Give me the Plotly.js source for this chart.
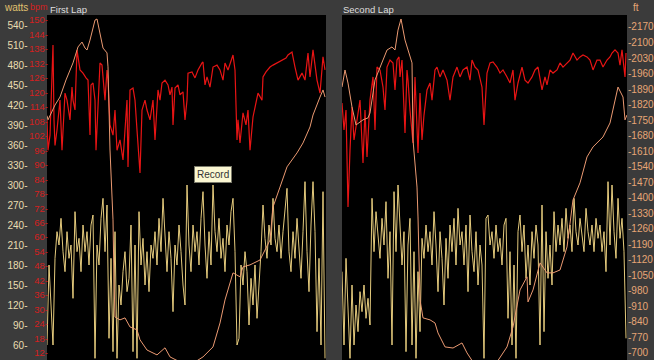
<!DOCTYPE html>
<html>
<head>
<meta charset="utf-8">
<script src="https://cdn.plot.ly/plotly-3.0.1.min.js"></script>
<style>html,body{margin:0;padding:0;background:#3b3b3b;}#chart{width:654px;height:360px;}</style>
</head>
<body>
<div id="chart"></div>
<script>
// ---------- Data ----------
const lapNames = ["First Lap", "Second Lap"];

// Power (watts), sampled every 2 time units
const lap1PowerStep = 2;
const lap1Power = [60,180,120,60,190,230,210,250,200,170,230,190,210,130,260,200,220,170,240,200,230,180,240,255,40,210,180,250,280,200,270,70,190,50,230,40,150,120,170,200,140,160,240,50,210,40,260,180,220,150,200,140,210,190,230,180,250,200,280,220,170,230,190,110,210,180,240,200,150,120,300,210,170,240,200,230,180,250,290,210,160,230,180,300,230,200,250,190,220,170,240,210,260,280,200,60,70,180,150,200,170,90,160,120,180,100,150,200,270,220,190,240,210,280,220,200,240,190,230,260,295,200,170,230,190,250,210,160,230,305,200,140,240,305,230,80,190,60,290,40];
const lap2Power = [170,60,190,100,40,150,60,120,80,140,110,150,100,130,90,280,200,260,230,190,250,210,275,160,230,60,290,200,300,240,180,230,50,210,250,60,200,40,170,80,220,190,240,200,230,180,260,210,140,230,190,120,220,160,240,200,250,180,265,210,230,180,240,140,255,200,170,230,150,210,180,40,250,255,210,230,190,240,200,220,180,240,250,100,200,60,180,40,230,255,200,240,160,210,150,230,190,240,210,60,270,80,230,160,210,150,260,200,240,210,250,200,265,220,240,200,280,230,210,250,220,200,265,230,210,240,200,250,220,240,200,230,170,305,210,300,230,190,280,220,250,200,70];

// Heart rate (bpm)
const lap1HrTime = [0,1,3,6,7,8,10,13,15,18,20,23,25,26,28,30,33,36,39,41,43,44,46,48,49,51,53,55,56,58,60,61,63,66,68,70,73,76,78,80,81,83,86,88,90,93,95,98,100,103,106,108,111,113,115,118,121,123,125,126,128,131,133,136,138,140,141,145,148,151,155,156,158,160,163,166,170,173,176,178,181,185,186,188,190,191,193,196,199,201,203,206,209,211,215,216,219,223,226,230,233,236,239,241,245,248,251,255,258,261,263,266,270,273,276,278];
const lap1Hr = [108.6,96,102.3,139.6,108.6,98,104.4,116.8,96,119.7,116.8,108.6,122.2,116.8,112.7,137.6,129.3,128,126,125.1,102.3,123.1,123.9,116.8,96,112.7,132.2,131.3,125.1,116.8,129.3,125.1,106.5,102.3,112.7,96,100.3,92,104.4,116.8,89.1,121,121.8,116.8,104.4,86.6,112.7,116.8,112.7,108.6,116.8,100.3,121,116.8,123.9,125.1,123.1,119,122.2,106.5,121.8,123.1,119,120.2,108.6,116.8,128,128.5,126,129.3,132.2,132.6,123.1,126.4,122.2,130.5,131.3,129.3,125.1,132.2,129.3,134.2,135.5,129.3,100.3,108.6,99,111.5,106.5,112.7,96,109.8,116.8,119.7,116.8,126.4,128.5,130.5,131.3,132.2,132.6,133.4,134.2,135.5,136.7,130.5,125.1,128,125.1,136.3,126.4,137.6,125.1,119.7,134.7,129.3];
const lap2HrTime = [0,2,4,6,8,10,12,15,18,21,23,25,28,31,33,35,38,41,43,45,48,51,53,55,57,58,60,63,65,66,68,71,73,76,78,80,82,85,88,90,93,95,98,101,105,108,111,115,118,121,125,128,130,133,136,140,142,145,148,151,155,158,161,165,168,171,173,176,180,183,186,190,193,196,200,203,205,208,211,215,218,221,225,228,231,235,238,241,245,248,251,255,258,261,265,268,270,273,276,278,280,281,283,284];
const lap2Hr = [115.6,104.4,112.7,72.5,96,113.9,100.3,108.6,116.8,90.7,112.7,93.2,116.8,126.4,104.4,130.5,129.3,122.2,112.7,130.5,133.4,132.2,121,133.4,134.7,126.4,133.4,103.2,129.3,125.1,112.7,99,126.4,94.9,119.7,100.3,110.6,121,123.9,116.8,129.3,130.5,126.4,129.3,125.1,116.8,126.4,130.5,126.4,129.3,130.5,125.1,133.4,130.5,129.3,122.2,106.5,128,132.2,132.6,130.5,128,129.3,126.4,123.9,129.3,116.8,123.9,130.5,125.1,123.9,126.4,129.3,130.5,121,126.4,123.1,129.3,128,129.3,132.2,130.5,132.2,133.4,136.3,133.4,134.7,135.5,134.7,133.4,129.3,133.4,133.4,130.5,133.4,134.7,136.3,137.6,136.3,131.3,137.6,133.4,126.4,136.3];

// Elevation (ft)
const lap1ElevTime = [0,1,8,13,19,26,31,35,38,40,43,48,50,53,56,60,61,63,65,66,67,68,73,78,83,90,93,100,110,118,123,133,148,156,166,173,178,186,193,196,203,213,223,226,233,240,250,256,263,266,273,276,278];
const lap1Elev = [1770,1751,1818,1854,1931,2008,2080,2102,2075,2066,2111,2201,2206,2143,2075,2053,1990,1615,1390,1300,1029,862,849,858,817,804,759,713,691,723,682,659,659,682,727,835,939,1061,1043,1088,1097,1119,1209,1358,1448,1539,1602,1647,1719,1773,1854,1886,1854];
const lap2ElevTime = [0,3,6,10,14,21,26,28,33,40,45,50,53,56,59,63,66,70,71,75,76,78,81,88,93,96,103,111,120,125,131,155,165,171,178,185,186,191,198,205,211,218,225,231,238,245,251,261,268,271,275,276,281,283,285];
const lap2Elev = [1899,1976,1917,1809,1728,1751,1760,1782,1931,2008,2066,2080,2066,2156,2206,2111,2066,2008,1660,1448,1313,939,858,849,835,790,727,722,745,700,659,659,727,817,984,1043,930,984,1106,1061,1061,1074,1178,1390,1467,1584,1629,1674,1737,1796,1886,1899,1854,1751,1773];

// Tick labels
const wattsTicks = [60,90,120,150,180,210,240,270,300,330,360,390,420,450,480,510,540];
const bpmTicks = [12,18,24,30,36,42,48,54,60,66,72,78,84,90,96,102,108,114,120,126,132,138,144,150];
const ftTicks = [700,770,840,910,980,1050,1120,1190,1260,1330,1400,1470,1540,1610,1680,1750,1820,1890,1960,2030,2100,2170];

// ---------- Styling ----------
const W = 654, H = 360;
const px = v => v / W;
const py = v => 1 - v / H;
const C_POWER = 'rgba(246,218,135,0.92)';
const C_HR = '#e81414';
const C_ELEV = '#eb9a72';
const FONT = 'Liberation Sans, Arial, sans-serif';

const WATTS_RANGE = [37.5, 555];
const BPM_RANGE = [9.1, 152.07];
const FT_RANGE = [668, 2224];

const timeOf = (arr, step) => arr.map((_, i) => i * step);

const traces = [
  {x: timeOf(lap1Power, lap1PowerStep), y: lap1Power, xaxis: 'x', yaxis: 'y', type: 'scatter', mode: 'lines', line: {color: C_POWER, width: 1}, hoverinfo: 'skip'},
  {x: lap1ElevTime, y: lap1Elev, xaxis: 'x', yaxis: 'y3', type: 'scatter', mode: 'lines', line: {color: C_ELEV, width: 1}, hoverinfo: 'skip'},
  {x: lap1HrTime, y: lap1Hr, xaxis: 'x', yaxis: 'y2', type: 'scatter', mode: 'lines', line: {color: C_HR, width: 1.2}, hoverinfo: 'skip'},
  {x: timeOf(lap2Power, lap1PowerStep), y: lap2Power, xaxis: 'x2', yaxis: 'y4', type: 'scatter', mode: 'lines', line: {color: C_POWER, width: 1}, hoverinfo: 'skip'},
  {x: lap2ElevTime, y: lap2Elev, xaxis: 'x2', yaxis: 'y6', type: 'scatter', mode: 'lines', line: {color: C_ELEV, width: 1}, hoverinfo: 'skip'},
  {x: lap2HrTime, y: lap2Hr, xaxis: 'x2', yaxis: 'y5', type: 'scatter', mode: 'lines', line: {color: C_HR, width: 1.2}, hoverinfo: 'skip'}
];

const hidden = {visible: false, showgrid: false, zeroline: false, fixedrange: true};
const yDomain = [0, py(15)];

const layout = {
  width: W, height: H,
  margin: {l: 0, r: 0, t: 0, b: 0, pad: 0},
  paper_bgcolor: '#3b3b3b',
  plot_bgcolor: '#000000',
  showlegend: false,
  font: {family: FONT, size: 10},
  xaxis: Object.assign({}, hidden, {domain: [px(47), px(326)], range: [0, 279]}),
  xaxis2: Object.assign({}, hidden, {domain: [px(342), px(627)], range: [0, 285]}),
  yaxis: {domain: yDomain, range: WATTS_RANGE, anchor: 'free', position: px(27.5), side: 'left',
          showgrid: false, zeroline: false, showline: false, ticks: '',
          tickmode: 'array', tickvals: wattsTicks, ticktext: wattsTicks.map(v => v + '-'),
          tickfont: {family: FONT, size: 10, color: '#e9ddb0'}, fixedrange: true},
  yaxis2: {overlaying: 'y', range: BPM_RANGE, anchor: 'free', position: px(48), side: 'left',
          showgrid: false, zeroline: false, showline: false, ticks: '',
          tickmode: 'array', tickvals: bpmTicks, ticktext: bpmTicks.map(v => v + '-'),
          tickfont: {family: FONT, size: 9.5, color: '#d41f1f'}, fixedrange: true},
  yaxis3: Object.assign({}, hidden, {overlaying: 'y', range: FT_RANGE}),
  yaxis4: Object.assign({}, hidden, {domain: yDomain, anchor: 'x2', range: WATTS_RANGE}),
  yaxis5: Object.assign({}, hidden, {overlaying: 'y4', range: BPM_RANGE}),
  yaxis6: {overlaying: 'y4', range: FT_RANGE, anchor: 'free', position: px(627), side: 'right',
          showgrid: false, zeroline: false, showline: false, ticks: '',
          tickmode: 'array', tickvals: ftTicks, ticktext: ftTicks.map(v => '-' + v),
          tickfont: {family: FONT, size: 10, color: '#e6a676'}, fixedrange: true},
  annotations: [
    {text: lapNames[0], xref: 'paper', yref: 'paper', x: px(47.5), y: py(9), xanchor: 'left', yanchor: 'middle', showarrow: false, font: {family: FONT, size: 9.5, color: '#dedede'}},
    {text: lapNames[1], xref: 'paper', yref: 'paper', x: px(341), y: py(9), xanchor: 'left', yanchor: 'middle', showarrow: false, font: {family: FONT, size: 9.5, color: '#dedede'}},
    {text: 'watts', xref: 'paper', yref: 'paper', x: px(2), y: py(7), xanchor: 'left', yanchor: 'middle', showarrow: false, font: {family: FONT, size: 10, color: '#e0c270'}},
    {text: 'bpm', xref: 'paper', yref: 'paper', x: px(28), y: py(7), xanchor: 'left', yanchor: 'middle', showarrow: false, font: {family: FONT, size: 9, color: '#d41f1f'}},
    {text: 'ft', xref: 'paper', yref: 'paper', x: px(631), y: py(7), xanchor: 'left', yanchor: 'middle', showarrow: false, font: {family: FONT, size: 10, color: '#e6a676'}},
    {text: 'Record', xref: 'paper', yref: 'paper', x: px(212.5), y: py(174), xanchor: 'center', yanchor: 'middle', showarrow: false,
     font: {family: FONT, size: 10, color: '#333333'}, bgcolor: '#fbf7d2', bordercolor: '#7a7a6a', borderwidth: 1, borderpad: 2}
  ]
};

Plotly.newPlot('chart', traces, layout, {displayModeBar: false, staticPlot: true});
</script>
</body>
</html>
